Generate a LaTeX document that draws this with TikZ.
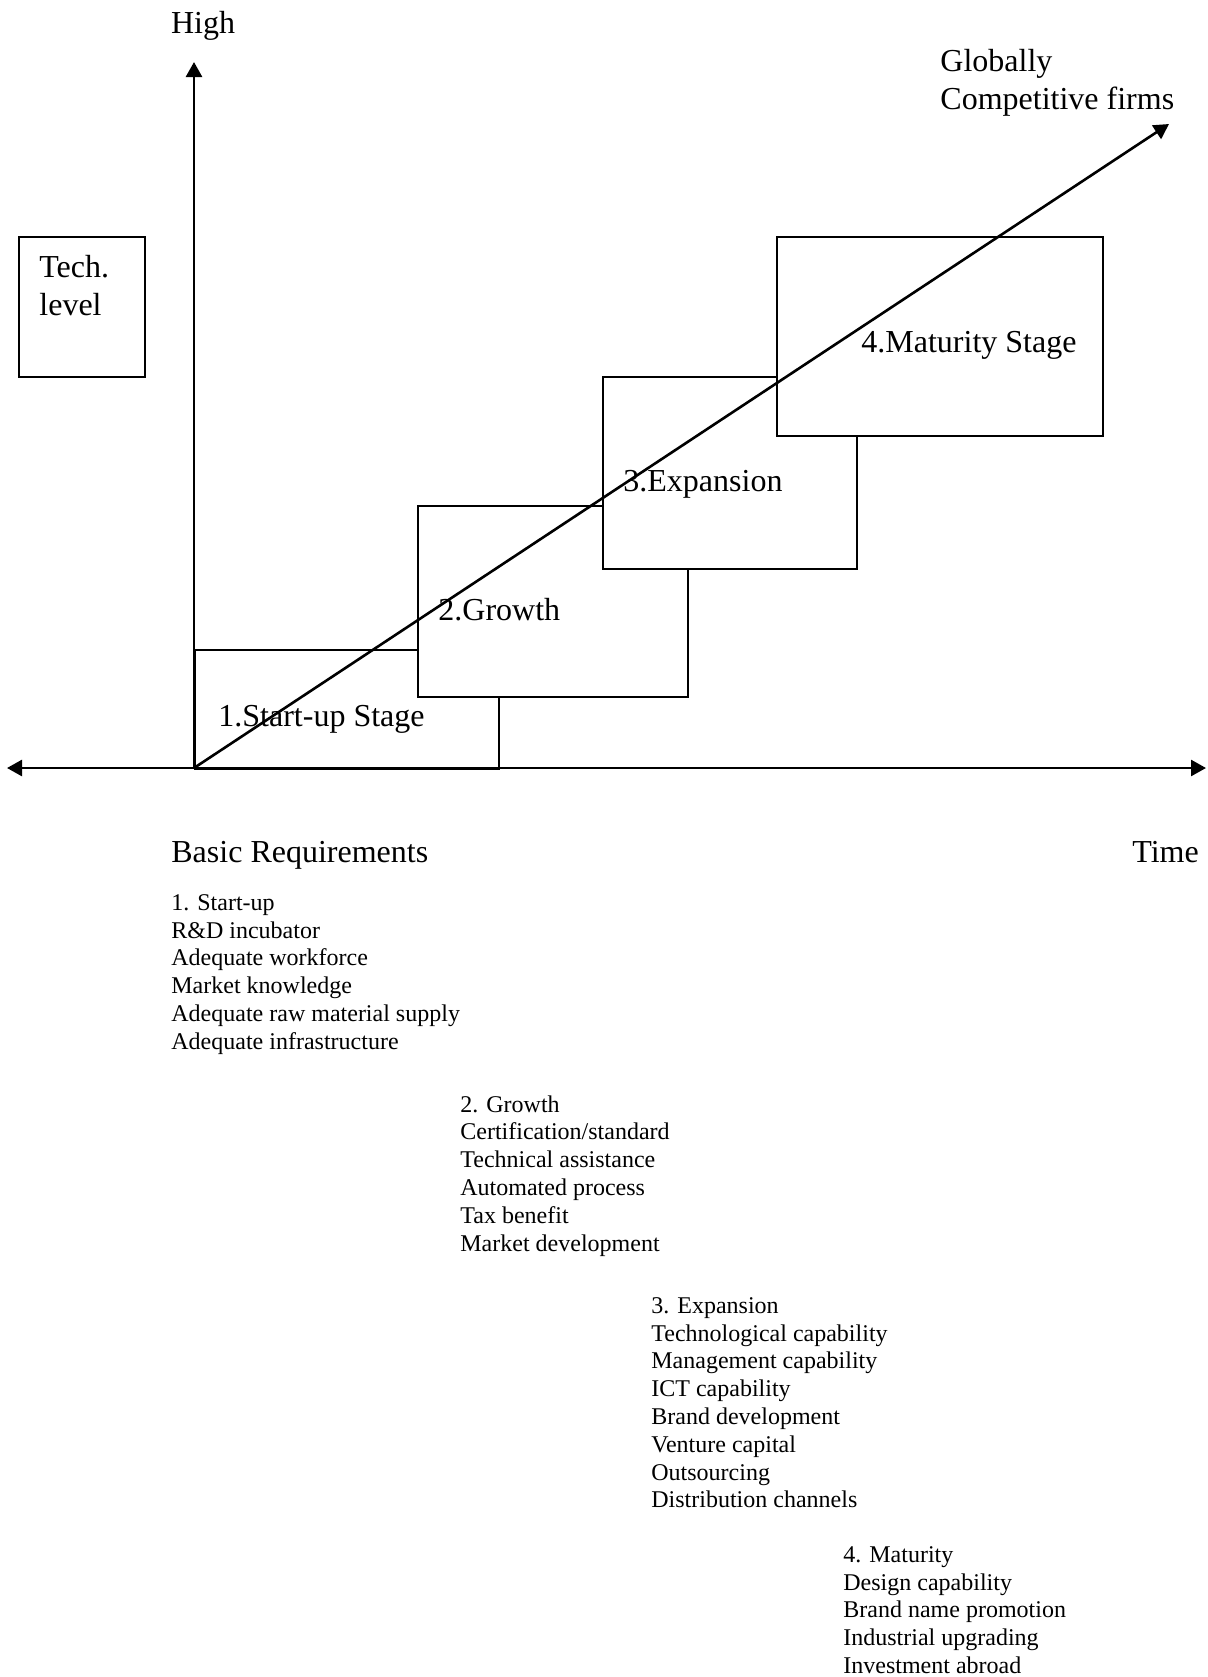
\documentclass[tikz,border=0pt]{standalone}
\usepackage{fontspec}
\setmainfont{Liberation Serif}
\usetikzlibrary{arrows.meta}

\begin{document}
\begin{tikzpicture}[
	  x=0.5pt, y=-0.5pt,
	  axis/.style={line width=1.3pt, -{Triangle[length=7.5pt, width=8pt]}},
	  stage/.style={draw, line width=1pt, fill=white, rectangle, anchor=north west, inner sep=0pt},
	  big/.style={font=\fontsize{16}{18.7}\selectfont, align=left, inner sep=0pt, anchor=base west},
	  reqlist/.style={font=\fontsize{12}{13.9}\selectfont, align=left, inner sep=0pt, anchor=north west}]
	  \useasboundingbox (0, 0) rectangle (1207, 1677);
	  % stage boxes, later ones cover earlier ones
	  \node[stage, minimum width=152pt, minimum height=59.5pt] (s1) at (194, 649) {};
	  \node[stage, minimum width=135pt, minimum height=95.5pt] (s2) at (417, 505) {};
	  \node[stage, minimum width=127pt, minimum height=96pt] (s3) at (602, 376) {};
	  \node[stage, minimum width=163pt, minimum height=99.5pt] (s4) at (776, 236) {};
	  \node[stage, minimum width=63pt, minimum height=70pt] (tech) at (18, 236) {};
	  \node[big, anchor=north west] (techtxt) at (39, 255) {Tech.\\level};
	  \node[big] (l1) at (218, 726) {1.Start-up Stage};
	  \node[big] (l2) at (438, 620) {2.Growth};
	  \node[big] (l3) at (623, 491) {3.Expansion};
	  \node[big] (l4) at (861, 352) {4.Maturity Stage};
	  % axes
	  \coordinate (o) at (194, 768);
	  \coordinate (ytop) at (194, 62);
	  \coordinate (xleft) at (7, 768);
	  \coordinate (xright) at (1206, 768);
	  \coordinate (gtip) at (1169, 124);
	  \draw[axis] (o) -- (ytop);
	  \draw[axis] (o) -- (xleft);
	  \draw[axis] (o) -- (xright);
	  \draw[axis] (o) -- (gtip);
	  \node[big, anchor=base] (high) at (203, 33) {High};
	  \node[big, anchor=north west] (glob) at (940, 49) {Globally\\Competitive firms};
	  \node[big] (basic) at (171, 862) {Basic Requirements};
	  \node[big] (time) at (1132, 862) {Time};
	  % requirement lists
	  \node[reqlist] (r1) at (171, 894) {1. Start-up\\R\&D incubator\\Adequate workforce\\Market knowledge\\Adequate raw material supply\\Adequate infrastructure};
	  \node[reqlist] (r2) at (460, 1095) {2. Growth\\Certification/standard\\Technical assistance\\Automated process\\Tax benefit\\Market development};
	  \node[reqlist] (r3) at (651, 1297) {3. Expansion\\Technological capability\\Management capability\\ICT capability\\Brand development\\Venture capital\\Outsourcing\\Distribution channels};
	  \node[reqlist] (r4) at (843, 1546) {4. Maturity\\Design capability\\Brand name promotion\\Industrial upgrading\\Investment abroad};
	\end{tikzpicture}
\end{document}
